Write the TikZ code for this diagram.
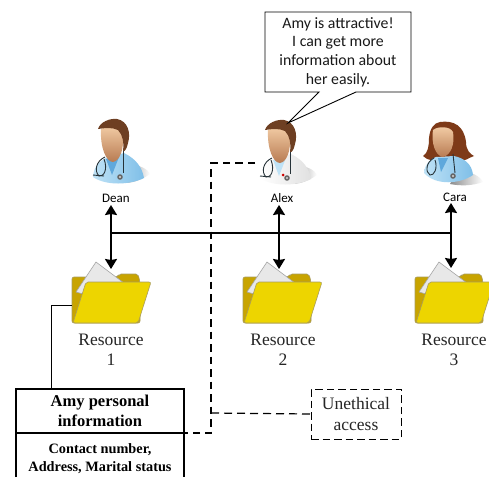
\documentclass[tikz,border=0pt]{standalone}
\usepackage{fontspec}
\setmainfont{Liberation Serif}
\newfontfamily\carl{Carlito}
\usetikzlibrary{arrows.meta}
\definecolor{foldback}{HTML}{C8A400}
\definecolor{foldfront}{HTML}{EDD500}
\definecolor{foldline}{HTML}{A89C60}
\definecolor{hairbrown}{HTML}{6E3F22}
\definecolor{hairred}{HTML}{7E3A18}
\definecolor{skinlight}{HTML}{F3CDA6}
\definecolor{skindark}{HTML}{B87B52}
\definecolor{steth}{HTML}{263238}
\definecolor{coatlight}{HTML}{BFE2F6}
\definecolor{coatdark}{HTML}{7FBFE8}
\definecolor{shirtblue}{HTML}{5FA8DC}
\tikzset{
  capt/.style={font=\fontsize{17.5}{20}\selectfont, align=center, text=black!85, inner sep=0pt},
  who/.style={font=\carl\fontsize{13}{15}\selectfont, inner sep=0pt},
  biglink/.style={line width=1.8pt, {Stealth[length=10pt,width=12pt,inset=1pt]}-{Stealth[length=10pt,width=12pt,inset=1pt]}},
  busline/.style={line width=1.8pt},
  dashA/.style={line width=1.5pt, dash pattern=on 7.5pt off 5pt},
  dashB/.style={line width=1.2pt, dash pattern=on 8pt off 5pt},
  dashC/.style={draw, line width=1pt, dash pattern=on 7.5pt off 4pt},
  folder/.pic={
    \draw[foldline, fill=foldback, line width=.6pt, rounded corners=2pt] (0,61) -- (0,15) -- (46,15) -- (47,12) -- (66,12) -- (68,20) -- (68,61) -- cycle;
    \draw[black!35, fill=black!9, line width=.6pt] (24,0) -- (52,21) -- (40,40) -- (4,30) -- cycle;
    \draw[foldline, fill=foldfront, line width=.6pt, rounded corners=2pt] (14,20) -- (79,20) -- (66,61) -- (1,61) -- cycle;
  }
}
\newcommand\drawmale[5]{
\begin{scope}[shift={(#1,#2)}]
  \shade[left color=black!45, right color=white] (35,48) .. controls (50,50) and (58,54) .. (60,59) .. controls (50,66) and (42,68) .. (32,68) -- cycle;
  \path[left color=#3, right color=#4, draw=none] (3,62) .. controls (4,50) and (10,46) .. (18,42) -- (34,38) .. controls (46,44) and (52,52) .. (54,63) .. controls (40,70) and (16,71) .. (3,62) -- cycle;
  \fill[#5] (16,44) -- (29,42) -- (22,60) -- cycle;
  \shade[top color=skinlight, bottom color=skindark] (11,14) .. controls (18,10) and (30,10) .. (33,20) .. controls (34,34) and (30,46) .. (23,47) .. controls (16,47) and (10,32) .. (11,14) -- cycle;
  \fill[hairbrown] (8,14) .. controls (10,7) and (20,3) .. (27,4) .. controls (38,6) and (41,18) .. (38,28) .. controls (37,33) and (35,37) .. (33,36) .. controls (34,28) and (33,20) .. (28,15) .. controls (22,12) and (14,13) .. (8,14) -- cycle;
  \draw[steth, line width=.9pt] (33,36) -- (33,58);
  \draw[steth, line width=.9pt] (15,42) .. controls (6,46) and (4,56) .. (9,61) .. controls (14,62) and (18,54) .. (14,44);
  \draw[steth, line width=.9pt] (3,60) -- (14,61);
  \fill[black!60] (30,62) circle (2.8pt);
  \fill[black!15] (30,62) circle (1.2pt);
\end{scope}}
\begin{document}
\begin{tikzpicture}[x=1pt,y=-1pt]
\useasboundingbox (0,0) rectangle (489,477);
\fill[white] (0,0) rectangle (489,477);

\drawmale{90}{115}{coatlight}{coatdark}{shirtblue}
\drawmale{257}{116}{white}{black!12}{coatlight}
\fill[red!80!black] (283,175) circle (1.5pt);
\begin{scope}[shift={(420,120)}]
  \shade[left color=black!45, right color=white] (38,50) .. controls (52,52) and (60,56) .. (63,62) .. controls (52,66) and (40,66) .. (30,64) -- cycle;
  \fill[hairred] (20,2) .. controls (34,0) and (44,6) .. (46,22) .. controls (46,30) and (50,34) .. (54,36) .. controls (48,38) and (46,41) .. (42,40) -- (12,40) .. controls (8,40) and (5,38) .. (3,36) .. controls (8,33) and (9,26) .. (9,18) .. controls (10,8) and (14,3) .. (20,2) -- cycle;
  \path[left color=coatlight, right color=coatdark] (4,53) .. controls (5,44) and (9,40) .. (16,37) -- (34,36) .. controls (44,38) and (52,44) .. (53,55) .. controls (40,64) and (16,66) .. (4,53) -- cycle;
  \fill[shirtblue] (18,38) -- (28,38) -- (21,52) -- cycle;
  \shade[top color=skinlight, bottom color=skindark] (13,10) .. controls (18,6) and (30,6) .. (33,12) .. controls (35,24) and (31,35) .. (23,37) .. controls (15,36) and (11,22) .. (13,10) -- cycle;
  \draw[steth, line width=.9pt] (33,34) -- (35,53);
  \draw[steth, line width=.9pt] (14,38) .. controls (6,42) and (5,52) .. (10,55) .. controls (14,56) and (18,48) .. (15,40);
  \fill[black!60] (33,56) circle (2.8pt);
  \fill[black!15] (33,56) circle (1.2pt);
\end{scope}

\node[who] (dean) at (116,198) {Dean};
\node[who] (alex) at (282,198) {Alex};
\node[who] (cara) at (455,197) {Cara};

\pic (f1) at (72,262) {folder};
\pic (f2) at (243,262) {folder};
\pic (f3) at (415,262) {folder};
\node[capt] (res1) at (111,350) {Resource\\[0pt]1};
\node[capt] (res2) at (283,350) {Resource\\[0pt]2};
\node[capt] (res3) at (454,350) {Resource\\[0pt]3};

\draw[line width=.9pt, fill=white] (265,12) -- (411,12) -- (411,92) -- (356,92) -- (288,123) -- (319,92) -- (265,92) -- cycle;
\node[font=\carl\fontsize{15.8}{18.7}\selectfont, align=center, inner sep=0pt, text=black!90] (speech) at (338,52) {Amy is attractive!\\I can get more\\information about\\her easily.};

\coordinate (boxTL) at (16,389);
\coordinate (boxTR) at (184,389);
\coordinate (boxML) at (16,433);
\coordinate (boxMR) at (184,433);
\coordinate (boxBL) at (16,477);
\coordinate (boxBR) at (184,477);
\draw[line width=1.2pt] (boxBL) -- (boxTL) -- (boxTR) -- (boxBR);
\draw[line width=1.2pt] (boxML) -- (boxMR);
\node[font=\bfseries\fontsize{16.5}{20.5}\selectfont, align=center, inner sep=0pt] (amy) at (100,411) {Amy personal\\information};
\node[font=\bfseries\fontsize{14.3}{18}\selectfont, align=center, inner sep=0pt] (contact) at (100,459) {Contact number,\\Address, Marital status};

\node[dashC, minimum width=90pt, minimum height=50pt, inner sep=0pt, align=center, text=black!85, font=\fontsize{17.5}{21}\selectfont] (uneth) at (356,414) {Unethical\\access};

\coordinate (deanP) at (111,205);
\coordinate (alexP) at (279,205);
\coordinate (caraP) at (451,203);
\coordinate (res1P) at (111,269);
\coordinate (res2P) at (279,269);
\coordinate (res3P) at (451,268);
\coordinate (bus1) at (111,233);
\coordinate (bus2) at (451,233);
\coordinate (alexDash) at (255,163);
\coordinate (dashTop) at (211,163);
\coordinate (dashJoin) at (211,413);
\coordinate (dashBot) at (211,433);
\coordinate (dashEnd) at (163,433);
\coordinate (fold1L) at (72,305);
\coordinate (elbow) at (51,305);
\coordinate (boxIn) at (51,389);

\draw[busline] (bus1) -- (bus2);
\draw[biglink] (deanP) -- (res1P);
\draw[biglink] (alexP) -- (res2P);
\draw[biglink] (caraP) -- (res3P);
\draw[line width=1pt] (fold1L) -- (elbow) -- (boxIn);
\draw[dashA] (alexDash) -- (dashTop) -- (dashBot) -- (dashEnd);
\draw[dashB] (dashJoin) -- (uneth.west);
\end{tikzpicture}
\end{document}
